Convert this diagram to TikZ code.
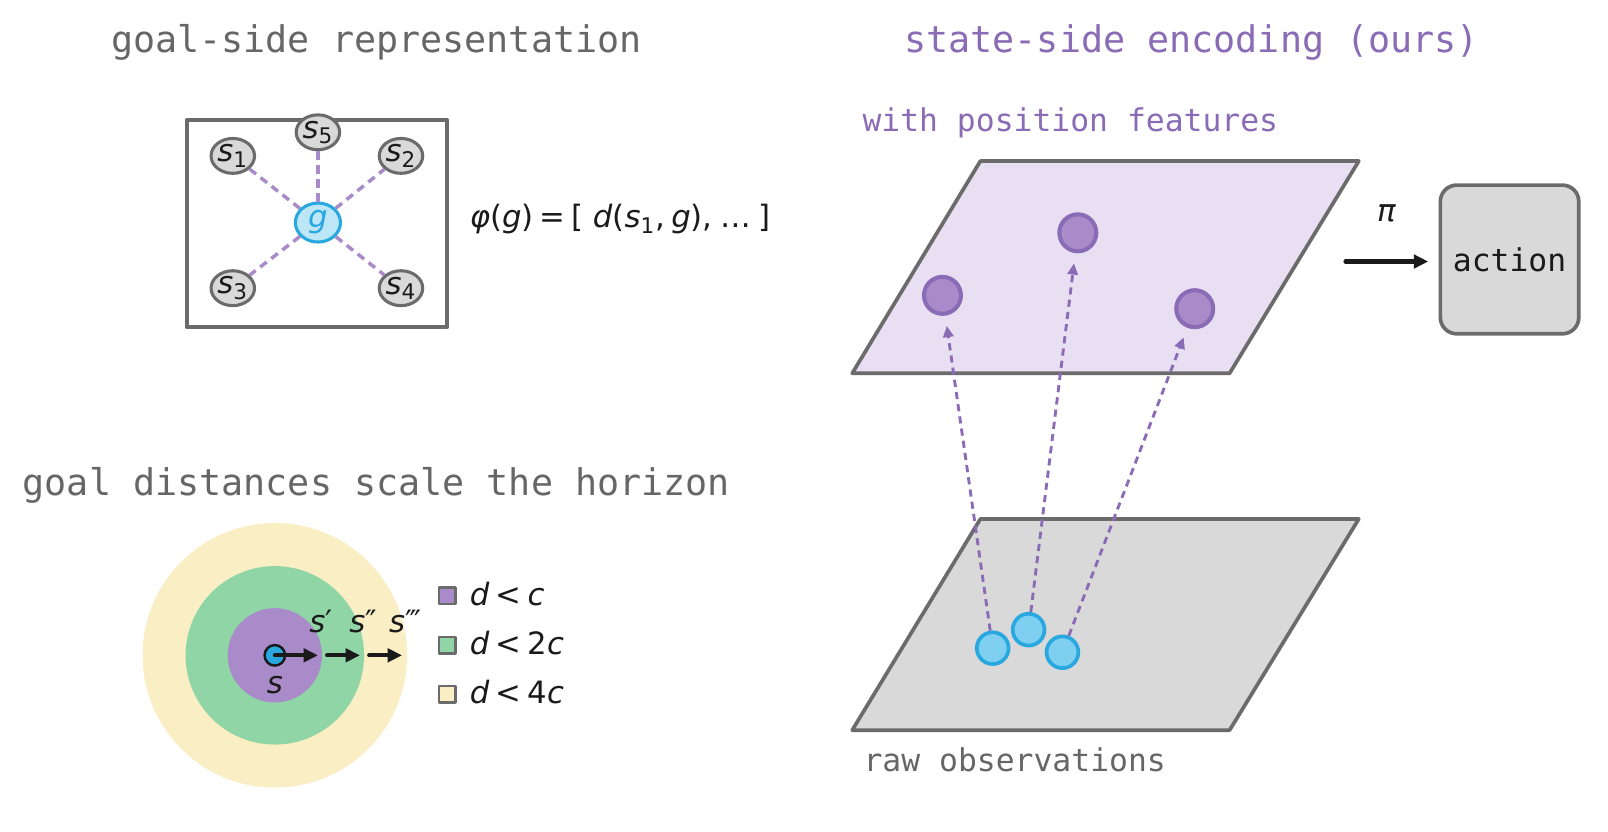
\documentclass[tikz,border=0pt]{standalone}
\usepackage{fontspec}
\setmainfont{DejaVu Sans}
\setmonofont{DejaVu Sans Mono}
\usetikzlibrary{arrows.meta,shapes.geometric}

\definecolor{edgegray}{HTML}{6B6B6B}
\definecolor{txtgray}{HTML}{666666}
\definecolor{lilac}{HTML}{A98BC9}
\definecolor{plum}{HTML}{8A6BB5}
\definecolor{sky}{HTML}{29A8E0}
\definecolor{skylight}{HTML}{BDE6F7}
\definecolor{skymid}{HTML}{7FD0F0}
\definecolor{mint}{HTML}{8FD5A6}
\definecolor{cream}{HTML}{FAEEC5}
\definecolor{planegray}{HTML}{D9D9D9}
\definecolor{planelilac}{HTML}{E8E0F2}
\definecolor{ink}{HTML}{1A1A1A}

\newcommand{\titlefont}{\ttfamily\fontsize{17.9}{20}\selectfont}
\newcommand{\smallmono}{\ttfamily\fontsize{15.3}{18}\selectfont}
\newcommand{\mathlbl}{\fontsize{15}{18}\selectfont}
\newcommand{\vi}[1]{\textit{#1}}
\newcommand{\rel}[1]{\hspace{0.2em}#1\hspace{0.2em}}

\begin{document}
\begin{tikzpicture}[x=0.5pt, y=-0.5pt, >={Triangle[length=7pt,width=6.5pt]}, line join=round,
    snode/.style={ellipse, draw=edgegray, line width=1.5pt, fill=planegray, minimum width=20.5pt, minimum height=17pt, inner sep=0pt, font=\mathlbl, text=ink},
    link/.style={lilac, line width=1.7pt, dash pattern=on 4pt off 2.8pt},
    feat/.style={circle, draw=plum, fill=lilac, line width=2pt, minimum size=18pt, inner sep=0pt},
    obs/.style={circle, draw=sky, fill=skymid, line width=1.8pt, minimum size=15.5pt, inner sep=0pt},
    lift/.style={->, plum, line width=1.4pt, dash pattern=on 3.5pt off 2.5pt, >={Triangle[length=5.5pt,width=5pt]}, shorten >=5pt},
    hop/.style={->, ink, line width=2pt, line cap=round},
    key/.style={rectangle, draw=edgegray, line width=1.2pt, minimum size=8pt, inner sep=0pt}]
    \useasboundingbox (0,0) rectangle (1568,811);

    \node[text=txtgray, font=\titlefont] (goaltitle) at (367,41) {goal-side representation};
    \node[text=plum, font=\titlefont] (statetitle) at (1162,41) {state-side encoding (ours)};
    \node[text=txtgray, font=\titlefont] (horizontitle) at (367,473) {goal distances scale the horizon};

    % goal-side box
    \draw[edgegray, line width=2pt] (182,117) rectangle (436,319);
    \node[snode] (s1) at (227,152) {\vi{s}\textsubscript{1}};
    \node[snode] (s5) at (310,129) {\vi{s}\textsubscript{5}};
    \node[snode] (s2) at (391,152) {\vi{s}\textsubscript{2}};
    \node[snode] (s3) at (227,281) {\vi{s}\textsubscript{3}};
    \node[snode] (s4) at (391,281) {\vi{s}\textsubscript{4}};
    \node[snode, draw=sky, fill=skylight, text=sky, minimum width=22pt, minimum height=19pt] (g) at (310,217) {\vi{g}};
    \foreach \s in {s1,s2,s3,s4,s5}
        \draw[link] (g) -- (\s);
    \node[anchor=west, font=\mathlbl, text=ink] (phi) at (451,214)
        {\vi{φ}(\vi{g})\rel{=}[\hspace{0.3em}\vi{d}(\vi{s}\textsubscript{1},\hspace{0.2em}\vi{g}),\hspace{0.25em}…\hspace{0.25em}]};

    % horizon rings
    \fill[cream] (268,639) circle (64.5pt);
    \fill[mint] (268,639) circle (43.5pt);
    \fill[lilac] (268,639) circle (23pt);
    \node[circle, draw=ink, fill=sky, line width=1.2pt, minimum size=10pt, inner sep=0pt] (s) at (268,639) {};
    \coordinate (t1) at (310,639);
    \coordinate (u2) at (319,639);
    \coordinate (t2) at (351,639);
    \coordinate (u3) at (360,639);
    \coordinate (t3) at (392,639);
    \draw[hop] (s.center) -- (t1);
    \draw[hop] (u2) -- (t2);
    \draw[hop] (u3) -- (t3);
    \node[font=\mathlbl, text=ink] (sa) at (313,606) {\vi{s}′};
    \node[font=\mathlbl, text=ink] (sb) at (354,606) {\vi{s}″};
    \node[font=\mathlbl, text=ink] (sc) at (395,606) {\vi{s}‴};
    \node[font=\mathlbl, text=ink] (slbl) at (268,668) {\vi{s}};

    \node[key, fill=lilac] (k1) at (436,581) {};
    \node[key, fill=mint] (k2) at (436,629) {};
    \node[key, fill=cream] (k3) at (436,677) {};
    \node[anchor=west, font=\mathlbl, text=ink] (l1) at (451,579) {\vi{d}\rel{<}\vi{c}};
    \node[anchor=west, font=\mathlbl, text=ink] (l2) at (451,627) {\vi{d}\rel{<}2\vi{c}};
    \node[anchor=west, font=\mathlbl, text=ink] (l3) at (451,675) {\vi{d}\rel{<}4\vi{c}};

    % state-side planes
    \node[anchor=west, text=plum, font=\smallmono] (withpos) at (834,120) {with position features};
    \draw[edgegray, fill=planelilac, line width=1.8pt] (831,364) -- (956,157) -- (1325,157) -- (1199,364) -- cycle;
    \draw[edgegray, fill=planegray, line width=1.8pt] (831,712) -- (956,506) -- (1325,506) -- (1199,712) -- cycle;
    \node[anchor=west, text=txtgray, font=\smallmono] (rawobs) at (835,741) {raw observations};

    \node[feat] (f1) at (919,288) {};
    \node[feat] (f2) at (1051,227) {};
    \node[feat] (f3) at (1165,301) {};
    \node[obs] (o1) at (968,632) {};
    \node[obs] (o2) at (1003,614) {};
    \node[obs] (o3) at (1036,636) {};
    \draw[lift] (o1) -- (f1);
    \draw[lift] (o2) -- (f2);
    \draw[lift] (o3) -- (f3);

    \node[draw=edgegray, fill=planegray, line width=1.8pt, rounded corners=8pt, minimum width=67.5pt, minimum height=72.5pt, font=\smallmono, text=ink] (action) at (1472,253) {action};
    \coordinate (pstart) at (1312,255);
    \draw[hop, shorten >=5pt] (pstart) -- (action.west |- pstart);
    \node[font=\mathlbl, text=ink] (pi) at (1352,208) {\vi{π}};
\end{tikzpicture}
\end{document}
